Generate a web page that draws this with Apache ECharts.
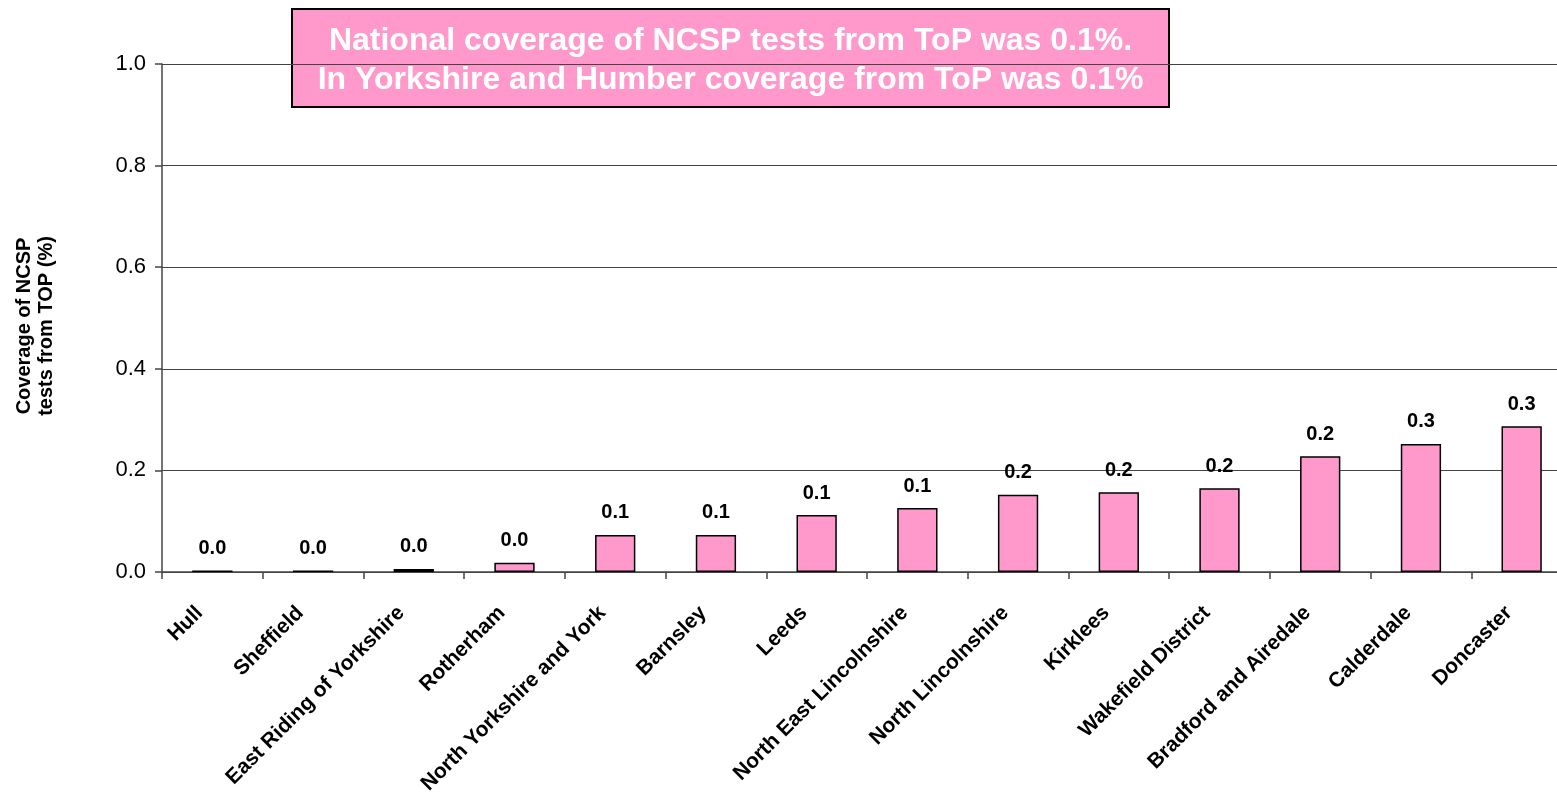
<!DOCTYPE html>
<html>
<head>
<meta charset="utf-8">
<title>Coverage of NCSP tests from TOP</title>
<script src="https://cdn.jsdelivr.net/npm/echarts@6/dist/echarts.min.js"></script>
<style>
  html, body { margin: 0; padding: 0; background: #ffffff; overflow: hidden; }
  #chart { width: 1557px; height: 799px; }
</style>
</head>
<body>
<div id="chart"></div>
<script>
// Primary care trusts, sorted by coverage
const categories = [
  'Hull', 'Sheffield', 'East Riding of Yorkshire', 'Rotherham',
  'North Yorkshire and York', 'Barnsley', 'Leeds', 'North East Lincolnshire',
  'North Lincolnshire', 'Kirklees', 'Wakefield District', 'Bradford and Airedale',
  'Calderdale', 'Doncaster'
];

// Coverage of NCSP tests from ToP (%)
const coverage = [
  0.003, 0.003, 0.006, 0.018,
  0.073, 0.073, 0.112, 0.126,
  0.152, 0.157, 0.165, 0.228,
  0.252, 0.287
];

const yTicks = [0.0, 0.2, 0.4, 0.6, 0.8, 1.0];

const noteLines = [
  'National coverage of NCSP tests from ToP was 0.1%.',
  'In Yorkshire and Humber coverage from ToP was 0.1%'
];

const chart = echarts.init(document.getElementById('chart'), null, { renderer: 'canvas' });

const font = '"Liberation Sans", Arial, Helvetica, sans-serif';

chart.setOption({
  animation: false,
  backgroundColor: '#ffffff',
  // the last category runs slightly past the right edge of the page
  grid: {
    left: 162, width: 1410, top: 64, bottom: 227,
    containLabel: false, outerBoundsMode: 'none'
  },
  xAxis: {
    type: 'category',
    data: categories,
    boundaryGap: true,
    axisLine: { show: true, lineStyle: { color: '#444', width: 1.5 } },
    axisTick: { show: true, alignWithLabel: false, length: 7, lineStyle: { color: '#444', width: 1.5 } },
    axisLabel: {
      interval: 0,
      rotate: 45,
      margin: 25,
      padding: [0, 18, 0, 0],
      color: '#000',
      fontFamily: font,
      fontWeight: 'bold',
      fontSize: 21
    }
  },
  yAxis: {
    type: 'value',
    min: yTicks[0],
    max: yTicks[yTicks.length - 1],
    interval: 0.2,
    name: 'Coverage of NCSP\ntests from TOP (%)',
    nameLocation: 'middle',
    nameGap: 105,
    nameRotate: 90,
    nameTextStyle: {
      color: '#000',
      fontFamily: font,
      fontWeight: 'bold',
      fontSize: 20,
      lineHeight: 22,
      padding: [0, 16, 0, 0]
    },
    axisLine: { show: true, lineStyle: { color: '#444', width: 1.5 } },
    axisTick: { show: true, length: 7, lineStyle: { color: '#444', width: 1.5 } },
    axisLabel: {
      color: '#000',
      fontFamily: font,
      fontSize: 22,
      margin: 16,
      formatter: v => v.toFixed(1)
    },
    splitLine: { show: true, lineStyle: { color: '#444', width: 1 } }
  },
  series: [{
    type: 'bar',
    data: coverage,
    barWidth: '40%',
    itemStyle: { color: '#FF99CC', borderColor: '#000', borderWidth: 1.5 },
    label: {
      show: true,
      position: 'top',
      distance: 12,
      color: '#000',
      fontFamily: font,
      fontWeight: 'bold',
      fontSize: 20,
      formatter: p => p.value.toFixed(1)
    }
  }],
  graphic: [{
    type: 'group',
    left: 291,
    top: 8,
    children: [
      {
        type: 'rect',
        shape: { x: 0, y: 0, width: 877, height: 98 },
        style: { fill: '#FF99CC', stroke: '#000', lineWidth: 2 }
      },
      {
        type: 'text',
        x: 438.5,
        y: 52,
        style: {
          text: noteLines.join('\n'),
          fill: '#ffffff',
          font: 'bold 32px ' + font,
          lineHeight: 39,
          align: 'center',
          verticalAlign: 'middle'
        }
      }
    ]
  }]
});
</script>
</body>
</html>
